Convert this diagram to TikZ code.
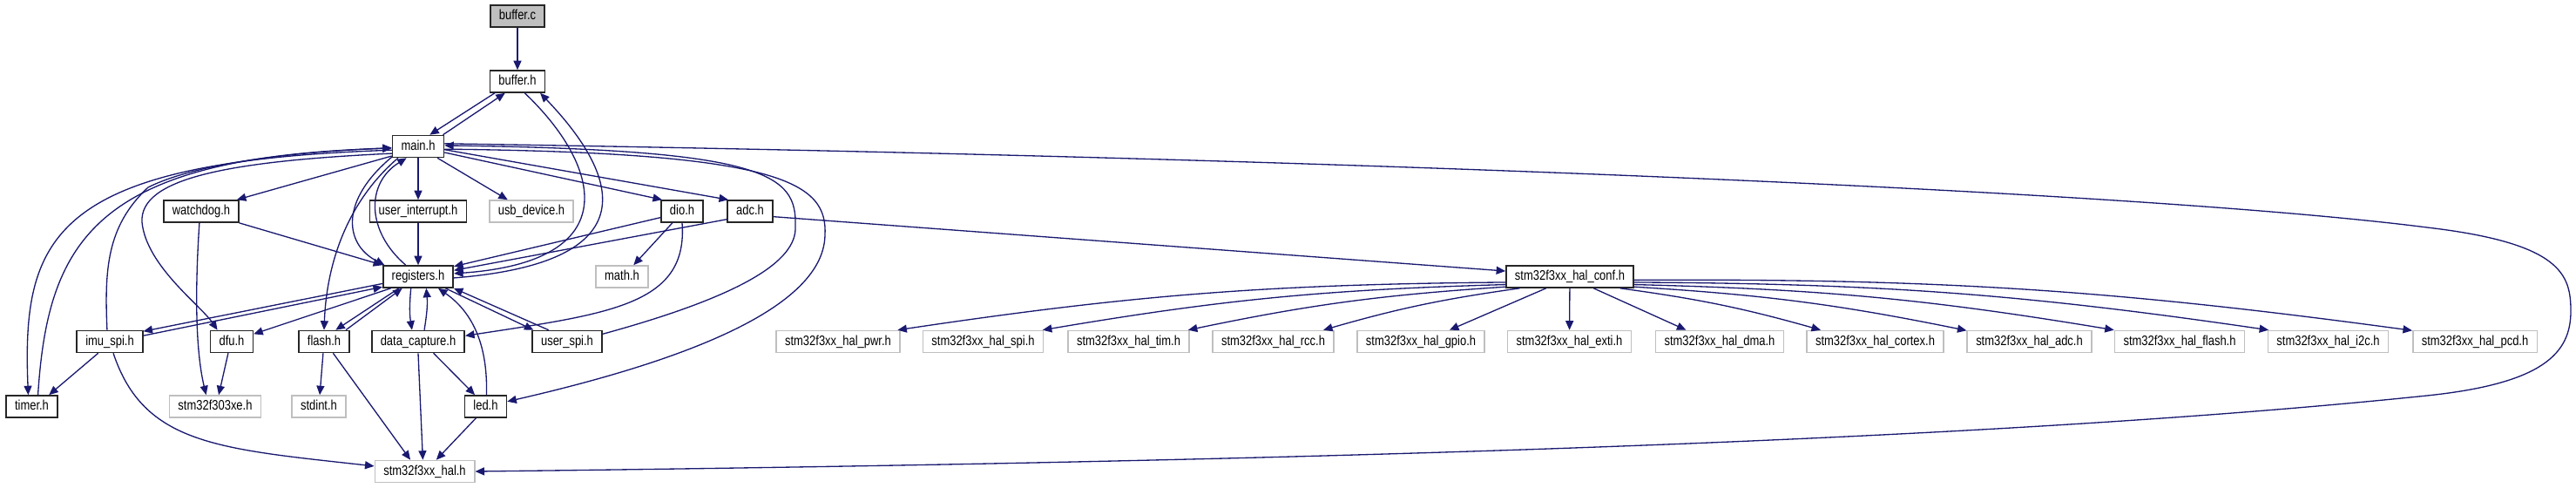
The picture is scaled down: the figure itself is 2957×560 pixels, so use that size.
\documentclass[tikz,border=0pt]{standalone}
\usepackage{fontspec}
\setmainfont{Liberation Sans}[FakeStretch=0.82]
\definecolor{edgeNavy}{RGB}{25,25,112}
\definecolor{extGray}{RGB}{191,191,191}
\definecolor{srcGray}{RGB}{191,191,191}
\usetikzlibrary{arrows.meta}
\tikzset{
  hfile/.style={draw=black!85, fill=white, line width=0.9pt, inner xsep=0.2cm, inner ysep=0pt,
    minimum height=0.5cm, text height=0.23cm, text depth=0.06cm, font=\fontsize{9}{10}\selectfont},
  extfile/.style={hfile, draw=extGray},
  srcfile/.style={hfile, fill=srcGray},
  inc/.style={draw=edgeNavy, line width=0.75pt, -{Triangle[length=0.21cm,width=0.18cm]}}
}

\begin{document}
\begin{tikzpicture}[x=0.02cm, y=-0.02cm]
        \useasboundingbox (0,0) rectangle (2957,560);
        % Project headers
        \node[srcfile] (bufc) at (594,18.5) {buffer.c};
        \node[hfile] (bufh) at (594,93.5) {buffer.h};
        \node[hfile] (mainh) at (480,168) {main.h};
        \node[hfile] (watchdog) at (231,242.5) {watchdog.h};
        \node[hfile] (uint) at (480,242.5) {user\_interrupt.h};
        \node[extfile] (usbdev) at (610,242.5) {usb\_device.h};
        \node[hfile] (dio) at (783,242.5) {dio.h};
        \node[hfile] (adc) at (861,242.5) {adc.h};
        \node[hfile] (regs) at (480,317.5) {registers.h};
        \node[extfile] (math) at (714,317.5) {math.h};
        \node[hfile] (halconf) at (1802,317.5) {stm32f3xx\_hal\_conf.h};
        \node[hfile] (imuspi) at (126,392) {imu\_spi.h};
        \node[hfile] (dfu) at (266,392) {dfu.h};
        \node[hfile] (flash) at (372,392) {flash.h};
        \node[hfile] (datacap) at (480,392) {data\_capture.h};
        \node[hfile] (userspi) at (651,392) {user\_spi.h};
        \node[hfile] (timer) at (36.5,466.5) {timer.h};
        \node[extfile] (f303) at (247,466.5) {stm32f303xe.h};
        \node[extfile] (stdint) at (366,466.5) {stdint.h};
        \node[hfile] (led) at (557.5,466.5) {led.h};
        \node[extfile] (hal) at (487.5,541) {stm32f3xx\_hal.h};
        % HAL module headers
        \node[extfile] (pwr) at (962,392) {stm32f3xx\_hal\_pwr.h};
        \node[extfile] (spi) at (1128.5,392) {stm32f3xx\_hal\_spi.h};
        \node[extfile] (tim) at (1295.5,392) {stm32f3xx\_hal\_tim.h};
        \node[extfile] (rcc) at (1461.5,392) {stm32f3xx\_hal\_rcc.h};
        \node[extfile] (gpio) at (1631,392) {stm32f3xx\_hal\_gpio.h};
        \node[extfile] (exti) at (1801.5,392) {stm32f3xx\_hal\_exti.h};
        \node[extfile] (dma) at (1974,392) {stm32f3xx\_hal\_dma.h};
        \node[extfile] (cortex) at (2152.5,392) {stm32f3xx\_hal\_cortex.h};
        \node[extfile] (hadc) at (2329.5,392) {stm32f3xx\_hal\_adc.h};
        \node[extfile] (hflash) at (2502,392) {stm32f3xx\_hal\_flash.h};
        \node[extfile] (i2c) at (2672.5,392) {stm32f3xx\_hal\_i2c.h};
        \node[extfile] (pcd) at (2841,392) {stm32f3xx\_hal\_pcd.h};
        % buffer.c and buffer.h
        \draw[inc] (bufc) -- (bufh);
        \draw[inc] (bufh.-153) -- (mainh.45);
        \draw[inc] (mainh.25) -- (bufh.-137);
        \draw[inc] (bufh.-58) .. controls (690,190) and (720,300) .. (regs.5);
        \draw[inc] (regs.-2) .. controls (760,300) and (700,190) .. (bufh.-27);
        % main.h includes
        \draw[inc] (mainh.-160) -- (watchdog.18);
        \draw[inc] (mainh) -- (uint);
        \draw[inc] (mainh.-31) -- (usbdev.154);
        \draw[inc] (mainh.-13) -- (dio.150);
        \draw[inc] (mainh.-7) -- (adc.152);
        \draw[inc] (mainh.-172) .. controls (60,185) and (25,270) .. (timer.107);
        \draw[inc] (mainh.-165) .. controls (260,185) and (160,205) .. (163,255)
          .. controls (168,305) and (230,350) .. (dfu.141);
        \draw[inc] (mainh.-150) .. controls (400,230) and (375,300) .. (flash.north);
        \draw[inc] (mainh.-158) .. controls (390,230) and (395,280) .. (regs.161);
        \draw[inc] (mainh.-6) .. controls (900,175) and (950,210) .. (947,270)
          .. controls (945,360) and (760,420) .. (led.13);
        \draw[inc] (mainh.6) .. controls (1500,180) and (2450,218) .. (2786,261)
          .. controls (2940,279) and (2951,315) .. (2951,357)
          .. controls (2951,405) and (2920,440) .. (2786,454)
          .. controls (2286,506) and (1500,530) .. (hal.east);
        % back to main.h
        \draw[inc] (timer.62) .. controls (55,275) and (110,180) .. (mainh.-176);
        \draw[inc] (imuspi.103) .. controls (120,310) and (122,260) .. (170,215)
          .. controls (230,185) and (350,174) .. (mainh.-177);
        \draw[inc] (regs.137) .. controls (420,265) and (420,210) .. (mainh.-135);
        \draw[inc] (userspi.12) .. controls (850,340) and (915,300) .. (913,260)
          .. controls (915,200) and (880,172) .. (mainh.2);
        % second row
        \draw[inc] (watchdog.-17) -- (regs.162);
        \draw[inc] (watchdog.-99) .. controls (224,330) and (224,400) .. (f303.128);
        \draw[inc] (uint) -- (regs);
        \draw[inc] (dio.-164) -- (regs.16);
        \draw[inc] (adc.-161) -- (regs.10);
        \draw[inc] (dio.-130) -- (math.45);
        \draw[inc] (dio.south) .. controls (790,350) and (700,360) .. (datacap.7);
        \draw[inc] (adc.-13) -- (halconf.175);
        % registers.h
        \draw[inc] (regs.-169) -- (imuspi.17);
        \draw[inc] (imuspi.10) -- (regs.-164);
        \draw[inc] (regs.-157) -- (dfu.19);
        \draw[inc] (regs.-149) -- (flash.45);
        \draw[inc] (flash.28) -- (regs.-144);
        \draw[inc] (regs.-122) .. controls (470,350) and (470,360) .. (datacap.118);
        \draw[inc] (datacap.62) .. controls (490,360) and (491,350) .. (regs.-55);
        \draw[inc] (led.86) .. controls (560,400) and (545,360) .. (regs.-30);
        \draw[inc] (regs.-23) -- (userspi.161);
        \draw[inc] (userspi.148) -- (regs.-18);
        % lower rows
        \draw[inc] (imuspi.-135) -- (timer.34);
        \draw[inc] (imuspi.-73) .. controls (165,510) and (250,515) .. (hal.174);
        \draw[inc] (dfu.-107) -- (f303.73);
        \draw[inc] (flash) -- (stdint);
        \draw[inc] (flash.-52) -- (hal.141);
        \draw[inc] (datacap.south) -- (hal.99);
        \draw[inc] (datacap.-37) -- (led.133);
        \draw[inc] (led.-130) -- (hal.45);
        % stm32f3xx_hal_conf.h fan
        \draw[inc] (halconf.-175) to[bend right=4] (pwr.11);
        \draw[inc] (halconf.-173) to[bend right=4] (spi.11);
        \draw[inc] (halconf.-171) to[bend right=4] (tim.11);
        \draw[inc] (halconf.-167) to[bend right=4] (rcc.13);
        \draw[inc] (halconf.-154) -- (gpio.22);
        \draw[inc] (halconf) -- (exti);
        \draw[inc] (halconf.-26) -- (dma.161);
        \draw[inc] (halconf.-13) to[bend left=4] (cortex.168);
        \draw[inc] (halconf.-9) to[bend left=4] (hadc.170);
        \draw[inc] (halconf.-7) to[bend left=4] (hflash.170);
        \draw[inc] (halconf.-5) to[bend left=4] (i2c.169);
        \draw[inc] (halconf.-3) to[bend left=4] (pcd.170);
      \end{tikzpicture}
\end{document}
